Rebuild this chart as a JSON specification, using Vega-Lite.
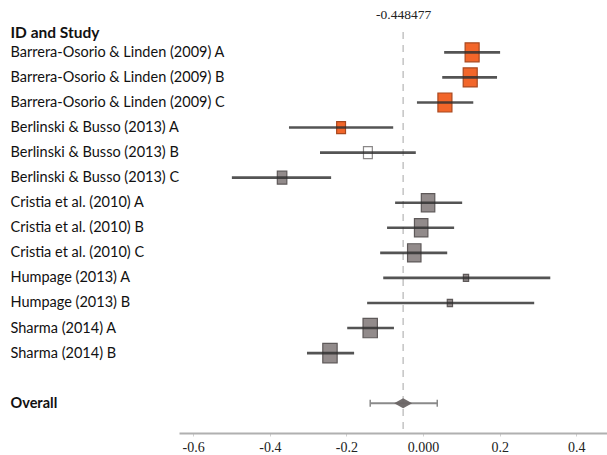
{
  "$schema": "https://vega.github.io/schema/vega-lite/v6.json",
  "autosize": {"type": "none"},
  "width": 428,
  "height": 401,
  "padding": {"left": 179, "top": 32, "right": 0, "bottom": 22},
  "background": "white",
  "config": {
    "view": {"stroke": null},
    "font": "Lato",
    "axisY": {
      "titleAngle": 0, "titleAlign": "left", "titleBaseline": "alphabetic", "titleX": -169, "titleY": 5,
      "titleFont": "Lato", "titleFontSize": 15.5, "titleFontWeight": "bold", "titleColor": "#111111",
      "domain": false, "ticks": false, "grid": false,
      "labelAlign": "left", "labelBaseline": "middle", "labelLimit": 300, "labelPadding": 169,
      "labelFont": "Lato", "labelFontSize": 14.5, "labelColor": "#111111"
    }
  },
  "data": {
    "values": [
      {"study": "Barrera-Osorio & Linden (2009) A", "est": 0.128, "lo": 0.055, "hi": 0.201, "weight": 10, "group": "Group 1"},
      {"study": "Barrera-Osorio & Linden (2009) B", "est": 0.123, "lo": 0.050, "hi": 0.193, "weight": 10, "group": "Group 1"},
      {"study": "Barrera-Osorio & Linden (2009) C", "est": 0.057, "lo": -0.016, "hi": 0.131, "weight": 10, "group": "Group 1"},
      {"study": "Berlinski & Busso (2013) A", "est": -0.214, "lo": -0.350, "hi": -0.078, "weight": 4, "group": "Group 1"},
      {"study": "Berlinski & Busso (2013) B", "est": -0.144, "lo": -0.269, "hi": -0.019, "weight": 4, "group": "Group 2"},
      {"study": "Berlinski & Busso (2013) C", "est": -0.368, "lo": -0.499, "hi": -0.240, "weight": 4.6, "group": "Group 3"},
      {"study": "Cristia et al. (2010) A", "est": 0.013, "lo": -0.073, "hi": 0.102, "weight": 9.2, "group": "Group 3"},
      {"study": "Cristia et al. (2010) B", "est": -0.005, "lo": -0.094, "hi": 0.081, "weight": 9.2, "group": "Group 3"},
      {"study": "Cristia et al. (2010) C", "est": -0.023, "lo": -0.112, "hi": 0.063, "weight": 9.2, "group": "Group 3"},
      {"study": "Humpage (2013) A", "est": 0.112, "lo": -0.104, "hi": 0.332, "weight": 1.4, "group": "Group 3"},
      {"study": "Humpage (2013) B", "est": 0.070, "lo": -0.146, "hi": 0.290, "weight": 1.4, "group": "Group 3"},
      {"study": "Sharma (2014) A", "est": -0.138, "lo": -0.198, "hi": -0.076, "weight": 10.5, "group": "Group 3"},
      {"study": "Sharma (2014) B", "est": -0.243, "lo": -0.303, "hi": -0.180, "weight": 10.5, "group": "Group 3"},
      {"study": "Overall", "est": -0.052, "lo": -0.138, "hi": 0.037, "weight": null, "group": "Overall"}
    ]
  },
  "resolve": {"axis": {"x": "independent"}},
  "layer": [
    {
      "transform": [{"filter": "datum.study == 'Overall'"}],
      "mark": {"type": "rule", "color": "#c4c4c4", "strokeWidth": 1.5, "strokeDash": [7, 6]},
      "encoding": {
        "x": {
          "field": "est", "type": "quantitative",
          "scale": {"domain": [-0.637, 0.48], "nice": false, "zero": false},
          "axis": {"orient": "top", "title": null, "values": [-0.052], "labelExpr": "'-0.448477'", "domain": false, "ticks": false, "grid": false, "labelPadding": 11, "labelFont": "Liberation Serif", "labelFontSize": 13.5, "labelColor": "#222222"}
        }
      }
    },
    {
      "transform": [{"filter": "datum.study != 'Overall'"}],
      "mark": {"type": "point", "shape": "M-0.737,-1L0.737,-1L0.737,1L-0.737,1Z", "filled": true, "opacity": 1, "strokeWidth": 1.2},
      "encoding": {
        "x": {"field": "est", "type": "quantitative", "scale": {"domain": [-0.637, 0.48], "nice": false, "zero": false}, "axis": null},
        "y": {"field": "study", "type": "nominal", "sort": null, "title": "ID and Study",
          "scale": {"type": "point", "domain": ["Barrera-Osorio & Linden (2009) A", "Barrera-Osorio & Linden (2009) B", "Barrera-Osorio & Linden (2009) C", "Berlinski & Busso (2013) A", "Berlinski & Busso (2013) B", "Berlinski & Busso (2013) C", "Cristia et al. (2010) A", "Cristia et al. (2010) B", "Cristia et al. (2010) C", "Humpage (2013) A", "Humpage (2013) B", "Sharma (2014) A", "Sharma (2014) B", " ", "Overall"], "padding": 1.15, "align": 0.406},
          "axis": {
            "labelFontWeight": {"condition": {"test": "datum.value == 'Overall'", "value": "bold"}, "value": "normal"},
            "labelExpr": "datum.value == 'Overall' ? '\u00a0Overall' : datum.label"
          }
        },
        "size": {"field": "weight", "type": "quantitative", "scale": {"domain": [0, 10], "range": [0, 361]}, "legend": null},
        "fill": {"field": "group", "type": "nominal", "scale": {"domain": ["Group 1", "Group 2", "Group 3"], "range": ["#f2662a", "#ffffff", "#928b8b"]}, "legend": null},
        "stroke": {"field": "group", "type": "nominal", "scale": {"domain": ["Group 1", "Group 2", "Group 3"], "range": ["#a8481f", "#8a8888", "#5e5959"]}, "legend": null}
      }
    },
    {
      "transform": [{"filter": "datum.study != 'Overall'"}],
      "mark": {"type": "rule", "color": "#2e2e2e", "strokeWidth": 2.6, "opacity": 0.82},
      "encoding": {
        "x": {
          "field": "lo", "type": "quantitative",
          "scale": {"domain": [-0.637, 0.48], "nice": false, "zero": false},
          "axis": {"orient": "bottom", "title": null, "values": [-0.6, -0.4, -0.2, 0, 0.2, 0.4], "labelExpr": "datum.value == 0 ? '0.000' : (datum.value < 0 ? '-' + format(-datum.value, '.1f') : format(datum.value, '.1f'))", "domainColor": "#b0b0b0", "domainWidth": 2, "tickColor": "#d0d0d0", "tickSize": 3, "tickWidth": 1, "labelPadding": 4, "labelFont": "Liberation Serif", "labelFontSize": 14, "labelColor": "#222222", "grid": false, "labelFlush": false}
        },
        "x2": {"field": "hi"},
        "y": {"field": "study", "type": "nominal", "sort": null, "title": "ID and Study",
          "scale": {"type": "point", "domain": ["Barrera-Osorio & Linden (2009) A", "Barrera-Osorio & Linden (2009) B", "Barrera-Osorio & Linden (2009) C", "Berlinski & Busso (2013) A", "Berlinski & Busso (2013) B", "Berlinski & Busso (2013) C", "Cristia et al. (2010) A", "Cristia et al. (2010) B", "Cristia et al. (2010) C", "Humpage (2013) A", "Humpage (2013) B", "Sharma (2014) A", "Sharma (2014) B", " ", "Overall"], "padding": 1.15, "align": 0.406}
        }
      }
    },
    {
      "transform": [{"filter": "datum.study == 'Overall'"}],
      "mark": {"type": "rule", "color": "#8a8a8a", "strokeWidth": 2},
      "encoding": {
        "x": {"field": "lo", "type": "quantitative", "scale": {"domain": [-0.637, 0.48], "nice": false, "zero": false}, "axis": null},
        "x2": {"field": "hi"},
        "y": {"field": "study", "type": "nominal", "sort": null, "title": "ID and Study",
          "scale": {"type": "point", "domain": ["Barrera-Osorio & Linden (2009) A", "Barrera-Osorio & Linden (2009) B", "Barrera-Osorio & Linden (2009) C", "Berlinski & Busso (2013) A", "Berlinski & Busso (2013) B", "Berlinski & Busso (2013) C", "Cristia et al. (2010) A", "Cristia et al. (2010) B", "Cristia et al. (2010) C", "Humpage (2013) A", "Humpage (2013) B", "Sharma (2014) A", "Sharma (2014) B", " ", "Overall"], "padding": 1.15, "align": 0.406}
        }
      }
    },
    {
      "transform": [{"filter": "datum.study == 'Overall'"}, {"fold": ["lo", "hi"], "as": ["end", "bound"]}],
      "mark": {"type": "tick", "orient": "vertical", "color": "#8a8a8a", "size": 7, "thickness": 1.5, "opacity": 1},
      "encoding": {
        "x": {"field": "bound", "type": "quantitative", "scale": {"domain": [-0.637, 0.48], "nice": false, "zero": false}, "axis": null},
        "y": {"field": "study", "type": "nominal", "sort": null, "title": "ID and Study",
          "scale": {"type": "point", "domain": ["Barrera-Osorio & Linden (2009) A", "Barrera-Osorio & Linden (2009) B", "Barrera-Osorio & Linden (2009) C", "Berlinski & Busso (2013) A", "Berlinski & Busso (2013) B", "Berlinski & Busso (2013) C", "Cristia et al. (2010) A", "Cristia et al. (2010) B", "Cristia et al. (2010) C", "Humpage (2013) A", "Humpage (2013) B", "Sharma (2014) A", "Sharma (2014) B", " ", "Overall"], "padding": 1.15, "align": 0.406}
        }
      }
    },
    {
      "transform": [{"filter": "datum.study == 'Overall'"}],
      "mark": {"type": "point", "shape": "M-1,0L0,-0.55L1,0L0,0.55Z", "filled": true, "color": "#6a6565", "opacity": 0.95, "size": 324},
      "encoding": {
        "x": {"field": "est", "type": "quantitative", "scale": {"domain": [-0.637, 0.48], "nice": false, "zero": false}, "axis": null},
        "y": {"field": "study", "type": "nominal", "sort": null, "title": "ID and Study",
          "scale": {"type": "point", "domain": ["Barrera-Osorio & Linden (2009) A", "Barrera-Osorio & Linden (2009) B", "Barrera-Osorio & Linden (2009) C", "Berlinski & Busso (2013) A", "Berlinski & Busso (2013) B", "Berlinski & Busso (2013) C", "Cristia et al. (2010) A", "Cristia et al. (2010) B", "Cristia et al. (2010) C", "Humpage (2013) A", "Humpage (2013) B", "Sharma (2014) A", "Sharma (2014) B", " ", "Overall"], "padding": 1.15, "align": 0.406}
        }
      }
    }
  ]
}
